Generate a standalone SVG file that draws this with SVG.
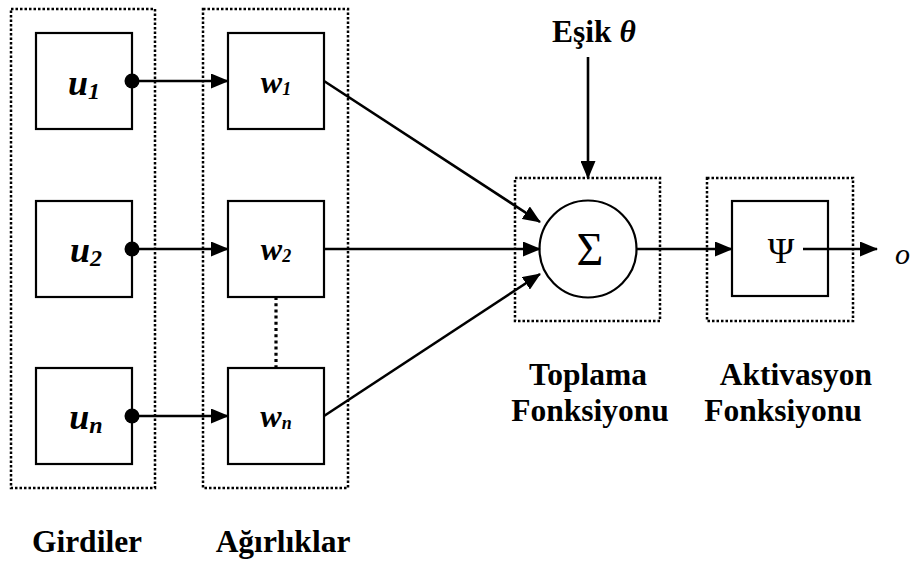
<svg xmlns="http://www.w3.org/2000/svg" width="911" height="566" viewBox="0 0 911 566">
<defs>
  <marker id="arrowhead" viewBox="0 0 18 15" refX="17" refY="7.5" markerWidth="18" markerHeight="15" markerUnits="userSpaceOnUse" orient="auto">
    <path d="M0,0 L18,7.5 L0,15 z" fill="#000"/>
  </marker>
</defs>
<style>
  .box { fill: #ffffff; stroke: #000000; stroke-width: 2.2; }
  .grp { fill: none; stroke: #000000; stroke-width: 2.5; stroke-dasharray: 2.5 2; }
  .conn { fill: none; stroke: #000000; stroke-width: 2.6; }
  .dotc { fill: none; stroke: #000000; stroke-width: 3.2; stroke-dasharray: 3 3.2; }
  .tnr { font-family: "Liberation Serif", "DejaVu Serif", "Times New Roman", serif; }
  .lbl { font-size: 31.5px; font-weight: 700; }
  .u { font-size: 36px; font-weight: 700; font-style: italic; }
  .usub { font-size: 24px; }
  .w { font-size: 32px; font-weight: 700; font-style: italic; }
  .wsub { font-size: 18px; }
</style>

<g id="girdiler-group">
  <rect class="grp" x="11" y="9" width="144" height="479"/>
</g>
<g id="agirliklar-group">
  <rect class="grp" x="203" y="9" width="145" height="479"/>
</g>
<g id="toplama-group">
  <rect class="grp" x="515" y="178" width="145" height="143"/>
</g>
<g id="aktivasyon-group">
  <rect class="grp" x="707" y="178" width="146" height="143"/>
</g>

<g id="u1">
  <rect class="box" x="36" y="33" width="96" height="96"/>
  <text class="tnr u" x="84" y="95" text-anchor="middle">u<tspan class="usub" dy="4">1</tspan></text>
</g>
<g id="u2">
  <rect class="box" x="36" y="201" width="96" height="96"/>
  <text class="tnr u" x="86" y="262" text-anchor="middle">u<tspan class="usub" dy="4">2</tspan></text>
</g>
<g id="un">
  <rect class="box" x="36" y="368" width="96" height="96"/>
  <text class="tnr u" x="86" y="429" text-anchor="middle">u<tspan class="usub" dy="4">n</tspan></text>
</g>

<g id="w1">
  <rect class="box" x="228" y="33" width="96" height="96"/>
  <text class="tnr w" x="276" y="93" text-anchor="middle">w<tspan class="wsub" dy="2">1</tspan></text>
</g>
<g id="w2">
  <rect class="box" x="228" y="201" width="96" height="96"/>
  <text class="tnr w" x="276" y="260" text-anchor="middle">w<tspan class="wsub" dy="2">2</tspan></text>
</g>
<g id="wn">
  <rect class="box" x="228" y="368" width="96" height="96"/>
  <text class="tnr w" x="276" y="427" text-anchor="middle">w<tspan class="wsub" dy="2">n</tspan></text>
</g>

<g id="sum">
  <circle cx="588" cy="249" r="48.5" fill="#ffffff" stroke="#000000" stroke-width="2.2"/>
  <text class="tnr" x="590" y="265" font-size="46" text-anchor="middle">Σ</text>
</g>

<g id="psi">
  <rect class="box" x="732" y="201" width="96" height="95"/>
  <text class="tnr" x="781" y="263" font-size="36" text-anchor="middle">Ψ</text>
</g>

<g id="connectors">
  <line class="conn" x1="132" y1="81" x2="228" y2="81" marker-end="url(#arrowhead)"/>
  <line class="conn" x1="132" y1="249" x2="228" y2="249" marker-end="url(#arrowhead)"/>
  <line class="conn" x1="132" y1="416" x2="228" y2="416" marker-end="url(#arrowhead)"/>
  <circle cx="132" cy="81" r="7.5" fill="#000000"/>
  <circle cx="132" cy="249" r="7.5" fill="#000000"/>
  <circle cx="132" cy="416" r="7.5" fill="#000000"/>
  <line class="dotc" x1="276" y1="297" x2="276" y2="368"/>
  <line class="conn" x1="324" y1="81" x2="540" y2="222" marker-end="url(#arrowhead)"/>
  <line class="conn" x1="324" y1="249" x2="540" y2="249" marker-end="url(#arrowhead)"/>
  <line class="conn" x1="324" y1="416" x2="540" y2="274" marker-end="url(#arrowhead)"/>
  <line class="conn" x1="588" y1="57" x2="588" y2="178" marker-end="url(#arrowhead)"/>
  <line class="conn" x1="637" y1="249" x2="732" y2="249" marker-end="url(#arrowhead)"/>
  <line class="conn" x1="803" y1="249" x2="877" y2="249" marker-end="url(#arrowhead)"/>
</g>

<g id="labels">
  <text class="tnr lbl" x="552" y="42">Eşik <tspan font-style="italic">θ</tspan></text>
  <text class="tnr" x="895" y="264" font-size="30" font-style="italic">o</text>
  <text class="tnr lbl" x="588" y="385" text-anchor="middle">Toplama</text>
  <text class="tnr lbl" x="590" y="421" text-anchor="middle">Fonksiyonu</text>
  <text class="tnr lbl" x="796" y="385" text-anchor="middle">Aktivasyon</text>
  <text class="tnr lbl" x="783" y="421" text-anchor="middle">Fonksiyonu</text>
  <text class="tnr lbl" x="87" y="552" text-anchor="middle">Girdiler</text>
  <text class="tnr lbl" x="283" y="552" text-anchor="middle">Ağırlıklar</text>
</g>
</svg>
